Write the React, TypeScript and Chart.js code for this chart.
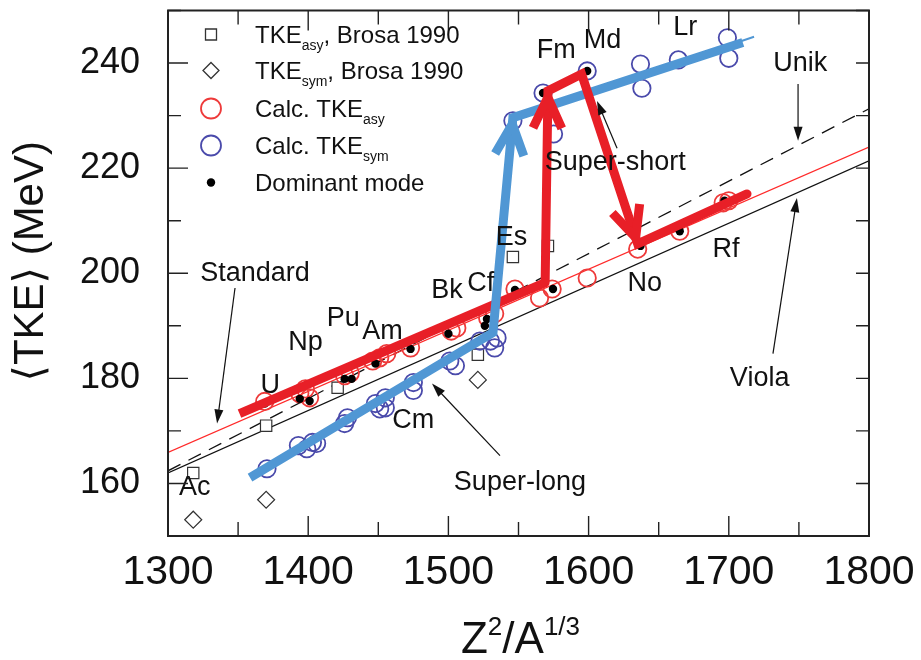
import React, { useEffect, useRef } from 'react';
import { Chart, registerables } from 'chart.js';
Chart.register(...registerables);

const FONT = '"Liberation Sans", Arial, "DejaVu Sans", sans-serif';

// axis ticks
const xTickLabels = [1300, 1400, 1500, 1600, 1700, 1800];
const yTickLabels = [160, 180, 200, 220, 240];

// Brosa 1990 data
const brosaAsyX = [1318, 1370, 1421, 1521, 1546, 1571];
const brosaAsyY = [162.0, 171.0, 178.2, 184.5, 203.1, 205.2];
const brosaSymX = [1318, 1370, 1521];
const brosaSymY = [153.1, 156.9, 179.7];

// calculated TKE (asymmetric)
const calcAsyX = [1369, 1394, 1398, 1401, 1426, 1430, 1446, 1451, 1456, 1473, 1502, 1506, 1528, 1533, 1547.5, 1565, 1574, 1599, 1635, 1665, 1696, 1700];
const calcAsyY = [175.6, 177.1, 178.0, 176.3, 180.5, 181.0, 183.3, 183.9, 184.7, 185.8, 189.0, 189.6, 191.5, 192.3, 197.0, 195.3, 197.0, 199.1, 204.6, 208.0, 213.4, 213.8];

// calculated TKE (symmetric)
const calcSymX = [1370.6, 1393, 1399, 1403, 1406, 1426, 1428, 1448, 1451, 1455, 1455, 1475, 1475, 1501, 1505, 1522.5, 1530, 1534.7, 1533, 1546, 1567.5, 1575, 1599, 1637, 1638, 1664, 1699, 1700];
const calcSymY = [162.8, 167.2, 166.6, 167.8, 167.6, 171.4, 172.5, 175.2, 174.2, 176.3, 174.4, 179.2, 177.7, 183.3, 182.4, 187.1, 187.1, 187.7, 185.8, 229.0, 234.3, 226.5, 238.5, 239.8, 235.2, 240.6, 244.8, 240.9];

// dominant mode
const domX = [1369, 1394, 1401, 1426, 1431, 1448, 1473, 1500, 1526, 1527.5, 1547.5, 1574.6, 1567.5, 1599, 1637, 1665, 1697];
const domY = [175.2, 176.1, 175.7, 179.9, 179.9, 182.8, 185.6, 188.5, 190.0, 191.3, 196.8, 197.0, 234.3, 238.5, 205.2, 208.0, 213.8];

// systematics lines
const violaX = [1300, 1800];
const violaY = [162.0, 221.4];
const unikX = [1300, 1800];
const unikY = [162.4, 231.3];
const standardX = [1300, 1800];
const standardY = [165.9, 224.0];
const symFitX = [1546, 1718];
const symFitY = [229.4, 245.0];

// hand-drawn trend paths
const redPathX = [1351, 1569, 1571, 1595, 1635, 1713];
const redPathY = [173.3, 198.2, 234.7, 237.9, 205.6, 215.1];
const bluePathX = [1358.5, 1531.8, 1546, 1710];
const bluePathY = [161.1, 188.7, 229.6, 243.9];

// element labels
const elemNames = ['Ac', 'U', 'Np', 'Pu', 'Am', 'Bk', 'Cf', 'Cm', 'Es', 'Fm', 'Md', 'Lr', 'No', 'Rf'];
const elemX = [1319, 1373, 1398, 1425, 1453, 1499, 1523, 1475, 1545, 1577, 1610, 1669, 1640, 1698];
const elemY = [159.2, 178.6, 186.8, 191.3, 189.0, 196.8, 198.0, 171.9, 206.7, 242.3, 244.2, 246.7, 198.0, 204.6];

// annotation callouts
const noteNames = ['Standard', 'Unik', 'Viola', 'Super-long', 'Super-short'];
const noteX = [1362, 1751, 1722, 1551, 1619];
const noteY = [199.9, 240.0, 179.9, 160.2, 221.0];
const noteArrowFromX = [1347.8, 1749.4, 1731.5, 1536.8, 1620.3];
const noteArrowFromY = [197.2, 236.0, 184.7, 165.3, 223.8];
const noteArrowToX = [1335.0, 1749.4, 1748.6, 1488.3, 1606.0];
const noteArrowToY = [171.4, 225.2, 214.3, 179.0, 232.8];

const zip = (xs: number[], ys: number[]) => xs.map((v, i) => ({ x: v, y: ys[i] }));

const RED = '#e81f27';
const BLUE = '#5097d4';

function openArrow(ctx: CanvasRenderingContext2D, x0: number, y0: number, x1: number, y1: number, color: string, w: number) {
  const len = 34;
  const ang = (25 * Math.PI) / 180;
  const a = Math.atan2(y1 - y0, x1 - x0);
  const back = w / 2 / Math.sin(ang);
  const tx = x1 - back * Math.cos(a) * 0.6;
  const ty = y1 - back * Math.sin(a) * 0.6;
  ctx.save();
  ctx.strokeStyle = color;
  ctx.lineWidth = w;
  ctx.lineJoin = 'miter';
  ctx.lineCap = 'butt';
  ctx.beginPath();
  ctx.moveTo(tx - len * Math.cos(a - ang), ty - len * Math.sin(a - ang));
  ctx.lineTo(tx, ty);
  ctx.lineTo(tx - len * Math.cos(a + ang), ty - len * Math.sin(a + ang));
  ctx.stroke();
  ctx.restore();
}

function thinArrow(ctx: CanvasRenderingContext2D, x0: number, y0: number, x1: number, y1: number) {
  const a = Math.atan2(y1 - y0, x1 - x0);
  const len = 14;
  const hw = 4.5;
  ctx.save();
  ctx.strokeStyle = '#111';
  ctx.fillStyle = '#111';
  ctx.lineWidth = 1.2;
  ctx.beginPath();
  ctx.moveTo(x0, y0);
  ctx.lineTo(x1 - len * Math.cos(a) * 0.8, y1 - len * Math.sin(a) * 0.8);
  ctx.stroke();
  ctx.beginPath();
  ctx.moveTo(x1, y1);
  const bx = x1 - len * Math.cos(a);
  const by = y1 - len * Math.sin(a);
  ctx.lineTo(bx + hw * Math.sin(a), by - hw * Math.cos(a));
  ctx.lineTo(bx - hw * Math.sin(a), by + hw * Math.cos(a));
  ctx.closePath();
  ctx.fill();
  ctx.restore();
}

type Part = { t: string; sub?: boolean; sup?: boolean };
function richText(ctx: CanvasRenderingContext2D, parts: Part[], x: number, y: number, size: number, align: 'left' | 'center') {
  const small = Math.round(size * 0.6);
  const fontFor = (p: Part) => `${p.sub || p.sup ? small : size}px ${FONT}`;
  let total = 0;
  for (const p of parts) {
    ctx.font = fontFor(p);
    total += ctx.measureText(p.t).width;
  }
  let cx = align === 'center' ? x - total / 2 : x;
  ctx.textAlign = 'left';
  ctx.textBaseline = 'alphabetic';
  for (const p of parts) {
    ctx.font = fontFor(p);
    const dy = p.sub ? size * 0.28 : p.sup ? -size * 0.42 : 0;
    ctx.fillText(p.t, cx, y + dy);
    cx += ctx.measureText(p.t).width;
  }
}

const overlayPlugin = {
  id: 'overlay',
  afterDatasetsDraw(chart: any) {
    const { ctx, scales } = chart;
    const xs = scales.x;
    const ys = scales.y;
    const px = (v: number) => xs.getPixelForValue(v);
    const py = (v: number) => ys.getPixelForValue(v);
    ctx.save();
    // arrowheads of trend paths
    openArrow(ctx, px(redPathX[1]), py(redPathY[1]), px(redPathX[2]), py(redPathY[2]), RED, 9);
    openArrow(ctx, px(redPathX[3]), py(redPathY[3]), px(redPathX[4]), py(redPathY[4]), RED, 9);
    openArrow(ctx, px(bluePathX[1]), py(bluePathY[1]), px(bluePathX[2]), py(bluePathY[2]), BLUE, 9);
    // callout arrows
    for (let i = 0; i < noteNames.length; i++) {
      thinArrow(ctx, px(noteArrowFromX[i]), py(noteArrowFromY[i]), px(noteArrowToX[i]), py(noteArrowToY[i]));
    }
    ctx.fillStyle = '#111';
    ctx.textAlign = 'center';
    ctx.textBaseline = 'middle';
    ctx.font = `27px ${FONT}`;
    for (let i = 0; i < noteNames.length; i++) {
      ctx.fillText(noteNames[i], px(noteX[i]), py(noteY[i]));
    }
    for (let i = 0; i < elemNames.length; i++) {
      ctx.fillText(elemNames[i], px(elemX[i]), py(elemY[i]));
    }
    ctx.restore();
  },
  afterDraw(chart: any) {
    const { ctx, chartArea: ca, scales } = chart;
    const xs = scales.x;
    const ys = scales.y;
    ctx.save();
    // frame
    ctx.strokeStyle = '#222';
    ctx.lineWidth = 2;
    ctx.strokeRect(ca.left, ca.top, ca.right - ca.left, ca.bottom - ca.top);
    // inner ticks
    ctx.lineWidth = 1.4;
    ctx.beginPath();
    for (let v = 1300; v <= 1800; v += 50) {
      const p = xs.getPixelForValue(v);
      const L = v % 100 === 0 ? 20 : 14;
      ctx.moveTo(p, ca.bottom);
      ctx.lineTo(p, ca.bottom - L);
      ctx.moveTo(p, ca.top);
      ctx.lineTo(p, ca.top + L);
    }
    for (let v = 150; v <= 250; v += 10) {
      const p = ys.getPixelForValue(v);
      const L = v % 20 === 0 ? 20 : 13;
      ctx.moveTo(ca.left, p);
      ctx.lineTo(ca.left + L, p);
      ctx.moveTo(ca.right, p);
      ctx.lineTo(ca.right - 13, p);
    }
    ctx.stroke();

    // legend
    const sx = ca.left + 43;
    const tx = ca.left + 87;
    const rows = [24, 60, 98, 135, 172].map((r) => ca.top + r);
    ctx.lineWidth = 1.3;
    ctx.strokeStyle = '#333';
    ctx.fillStyle = '#fff';
    ctx.beginPath();
    ctx.rect(sx - 5.5, rows[0] - 5.5, 11, 11);
    ctx.fill();
    ctx.stroke();
    ctx.beginPath();
    ctx.moveTo(sx, rows[1] - 8);
    ctx.lineTo(sx + 8, rows[1]);
    ctx.lineTo(sx, rows[1] + 8);
    ctx.lineTo(sx - 8, rows[1]);
    ctx.closePath();
    ctx.fill();
    ctx.stroke();
    ctx.lineWidth = 1.8;
    ctx.strokeStyle = '#ee3a3a';
    ctx.beginPath();
    ctx.arc(sx, rows[2], 10, 0, Math.PI * 2);
    ctx.stroke();
    ctx.strokeStyle = '#4a4aab';
    ctx.beginPath();
    ctx.arc(sx, rows[3], 10, 0, Math.PI * 2);
    ctx.stroke();
    ctx.fillStyle = '#000';
    ctx.beginPath();
    ctx.arc(sx, rows[4], 4.2, 0, Math.PI * 2);
    ctx.fill();

    ctx.fillStyle = '#111';
    const ls = 24;
    const base = (r: number) => r + ls * 0.36;
    richText(ctx, [{ t: 'TKE' }, { t: 'asy', sub: true }, { t: ', Brosa 1990' }], tx, base(rows[0]), ls, 'left');
    richText(ctx, [{ t: 'TKE' }, { t: 'sym', sub: true }, { t: ', Brosa 1990' }], tx, base(rows[1]), ls, 'left');
    richText(ctx, [{ t: 'Calc. TKE' }, { t: 'asy', sub: true }], tx, base(rows[2]), ls, 'left');
    richText(ctx, [{ t: 'Calc. TKE' }, { t: 'sym', sub: true }], tx, base(rows[3]), ls, 'left');
    richText(ctx, [{ t: 'Dominant mode' }], tx, base(rows[4]), ls, 'left');

    // axis titles
    richText(ctx, [{ t: 'Z' }, { t: '2', sup: true }, { t: '/A' }, { t: '1/3', sup: true }], (ca.left + ca.right) / 2 + 2, 653, 44, 'center');
    ctx.save();
    ctx.translate(31, (ca.top + ca.bottom) / 2 - 12);
    ctx.rotate(-Math.PI / 2);
    ctx.font = `42px ${FONT}`;
    ctx.textAlign = 'center';
    ctx.textBaseline = 'middle';
    ctx.fillText('\u27E8TKE\u27E9 (MeV)', 0, 0);
    ctx.restore();
    ctx.restore();
  },
};

export default function App() {
  const ref = useRef<HTMLCanvasElement>(null);
  useEffect(() => {
    if (!ref.current) return;
    const lineDs = (xs: number[], ys: number[], color: string, width: number, order: number, extra: any = {}) => ({
      data: zip(xs, ys),
      showLine: true,
      borderColor: color,
      borderWidth: width,
      pointRadius: 0,
      fill: false,
      order,
      ...extra,
    });
    const chart = new Chart(ref.current, {
      type: 'scatter',
      data: {
        datasets: [
          lineDs(violaX, violaY, '#111', 1.3, 20),
          lineDs(unikX, unikY, '#111', 1.3, 20, { borderDash: [14, 9] }),
          lineDs(standardX, standardY, '#ff2a2a', 1.3, 19),
          lineDs(symFitX, symFitY, BLUE, 2, 19),
          {
            data: zip(brosaAsyX, brosaAsyY),
            pointStyle: 'rect',
            pointRadius: 8,
            borderColor: '#333',
            backgroundColor: '#fff',
            borderWidth: 1.2,
            order: 15,
          },
          {
            data: zip(brosaSymX, brosaSymY),
            pointStyle: 'rectRot',
            pointRadius: 8.5,
            borderColor: '#333',
            backgroundColor: '#fff',
            borderWidth: 1.2,
            order: 15,
          },
          {
            data: zip(calcAsyX, calcAsyY),
            pointStyle: 'circle',
            pointRadius: 8.7,
            borderColor: '#ee3a3a',
            backgroundColor: 'rgba(0,0,0,0)',
            borderWidth: 1.8,
            order: 12,
          },
          {
            data: zip(calcSymX, calcSymY),
            pointStyle: 'circle',
            pointRadius: 8.7,
            borderColor: '#4a4aab',
            backgroundColor: 'rgba(0,0,0,0)',
            borderWidth: 1.8,
            order: 12,
          },
          {
            data: zip(domX, domY),
            pointStyle: 'circle',
            pointRadius: 4.2,
            borderColor: '#000',
            backgroundColor: '#000',
            borderWidth: 0,
            order: 10,
          },
          lineDs(redPathX.slice(0, 2), redPathY.slice(0, 2), RED, 9, 5, { borderCapStyle: 'butt' }),
          lineDs(bluePathX, bluePathY, BLUE, 9, 4, { borderJoinStyle: 'miter', borderCapStyle: 'butt' }),
          lineDs(redPathX.slice(1), redPathY.slice(1), RED, 9, 3, { borderJoinStyle: 'miter', borderCapStyle: 'round' }),
        ],
      },
      options: {
        responsive: false,
        animation: false,
        events: [],
        devicePixelRatio: 1,
        layout: { padding: { left: 0, right: 52, top: 10, bottom: 0 } },
        plugins: { legend: { display: false }, tooltip: { enabled: false } },
        scales: {
          x: {
            type: 'linear',
            min: 1300,
            max: 1800,
            grid: { display: false, drawTicks: false },
            border: { display: false },
            afterFit: (s: any) => {
              s.height = 124;
              s.paddingLeft = 0;
              s.paddingRight = 0;
              s.paddingTop = 0;
              s.paddingBottom = 0;
            },
            ticks: {
              stepSize: 100,
              autoSkip: false,
              maxRotation: 0,
              padding: 12,
              color: '#111',
              font: { family: FONT, size: 41 },
              callback: (v: any) => (xTickLabels.includes(Number(v)) ? String(v) : ''),
            },
          },
          y: {
            type: 'linear',
            min: 150,
            max: 250,
            grid: { display: false, drawTicks: false },
            border: { display: false },
            afterFit: (s: any) => {
              s.width = 168;
              s.paddingLeft = 0;
              s.paddingRight = 0;
              s.paddingTop = 0;
              s.paddingBottom = 0;
            },
            ticks: {
              stepSize: 10,
              autoSkip: false,
              padding: 28,
              color: '#111',
              font: { family: FONT, size: 36 },
              callback: (v: any) => (yTickLabels.includes(Number(v)) ? String(v) : ''),
            },
          },
        },
      },
      plugins: [overlayPlugin],
    } as any);
    return () => chart.destroy();
  }, []);
  return (
    <div style={{ position: 'fixed', left: 0, top: 0, width: 921, height: 660, background: '#fff' }}>
      <canvas ref={ref} width={921} height={660} style={{ display: 'block', width: 921, height: 660 }} />
    </div>
  );
}
